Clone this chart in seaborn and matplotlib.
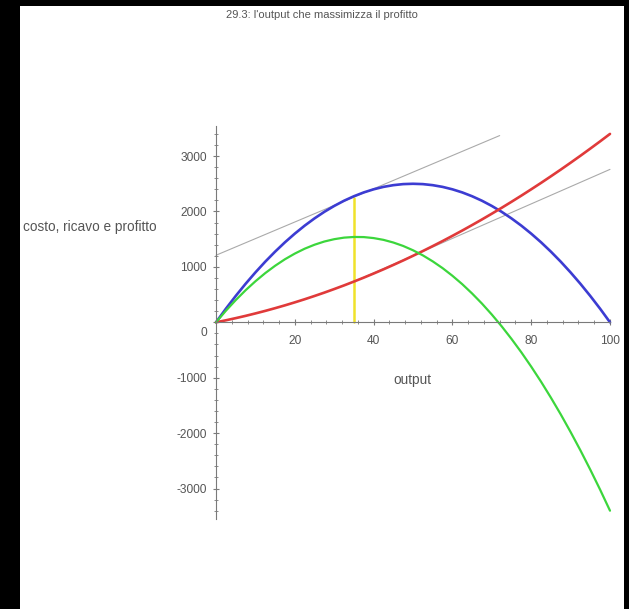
import pandas as pd
import seaborn as sns
import matplotlib.pyplot as plt
from matplotlib.patches import Rectangle
from matplotlib.ticker import MultipleLocator
from matplotlib.transforms import ScaledTranslation

# values (every 2.5 units of output)
output = [0, 2.5, 5, 7.5, 10, 12.5, 15, 17.5, 20, 22.5, 25, 27.5, 30, 32.5, 35, 37.5,
          40, 42.5, 45, 47.5, 50, 52.5, 55, 57.5, 60, 62.5, 65, 67.5, 70, 72.5, 75,
          77.5, 80, 82.5, 85, 87.5, 90, 92.5, 95, 97.5, 100]
ricavo = [0, 244, 475, 694, 900, 1094, 1275, 1444, 1600, 1744, 1875, 1994, 2100,
          2194, 2275, 2344, 2400, 2444, 2475, 2494, 2500, 2494, 2475, 2444, 2400,
          2344, 2275, 2194, 2100, 1994, 1875, 1744, 1600, 1444, 1275, 1094, 900,
          694, 475, 244, 0]
costo = [0, 36, 75, 116, 160, 206, 255, 306, 360, 416, 475, 536, 600, 666, 735,
         806, 880, 956, 1035, 1116, 1200, 1286, 1375, 1466, 1560, 1656, 1755, 1856,
         1960, 2066, 2175, 2286, 2400, 2516, 2635, 2756, 2880, 3006, 3135, 3266, 3400]
profitto = [0, 208, 400, 578, 740, 888, 1020, 1138, 1240, 1328, 1400, 1458, 1500,
            1528, 1540, 1538, 1520, 1488, 1440, 1378, 1300, 1208, 1100, 978, 840,
            688, 520, 338, 140, -72, -300, -542, -800, -1072, -1360, -1662, -1980,
            -2312, -2660, -3022, -3400]

# tangent lines (revenue tangent and cost tangent at the optimum) and the optimum marker
tang_r_x = [0, 72]
tang_r_y = [1210, 3370]
tang_c_x = [35, 100]
tang_c_y = [735, 2760]
q_opt_x = [35, 35]
q_opt_y = [0, 2250]

x_ticks = [20, 40, 60, 80, 100]
y_ticks = [-3000, -2000, -1000, 0, 1000, 2000, 3000]

sns.set_style("white")
plt.rcParams['font.family'] = ['Liberation Sans', 'DejaVu Sans']

fig = plt.figure(figsize=(6.29, 6.09), dpi=100, facecolor="black")
fig.patches.append(Rectangle((20 / 629, 0), 604 / 629, 603 / 609,
                             transform=fig.transFigure, facecolor="white",
                             edgecolor="none", zorder=-10))
ax = fig.add_axes([216 / 629, 90 / 609, 394 / 629, 393.4 / 609])
ax.set_facecolor("none")
ax.set_zorder(5)

df = pd.DataFrame({"output": output, "ricavo": ricavo,
                   "costo": costo, "profitto": profitto})

kw = dict(ax=ax, estimator=None, sort=False)
sns.lineplot(x=tang_r_x, y=tang_r_y, color="#aaaaaa", lw=0.8, **kw)
sns.lineplot(x=tang_c_x, y=tang_c_y, color="#aaaaaa", lw=0.8, **kw)
sns.lineplot(x=q_opt_x, y=q_opt_y, color="#f0e22a", lw=1.8, **kw)
sns.lineplot(data=df, x="output", y="ricavo", color="#3c3cd2", lw=1.9, **kw)
sns.lineplot(data=df, x="output", y="costo", color="#e03a3a", lw=1.9, **kw)
sns.lineplot(data=df, x="output", y="profitto", color="#3cd63c", lw=1.6, **kw)
for ln in ax.lines:
    ln.set_clip_on(False)

ax.set_xlim(0, 100)
ax.set_ylim(-3550, 3550)
ax.spines["left"].set_position(("data", 0))
ax.spines["bottom"].set_position(("data", 0))
ax.spines["right"].set_visible(False)
ax.spines["top"].set_visible(False)
for s in ("left", "bottom"):
    ax.spines[s].set_color("#7a7a7a")
    ax.spines[s].set_linewidth(0.8)

ax.set_xticks(x_ticks)
ax.set_xticklabels([str(v) for v in x_ticks])
ax.set_yticks(y_ticks)
ax.set_yticklabels([str(v) for v in y_ticks])
ax.xaxis.set_minor_locator(MultipleLocator(4))
ax.yaxis.set_minor_locator(MultipleLocator(200))
ax.tick_params(which="both", bottom=True, left=True, top=False, right=False)
ax.tick_params(which="major", direction="inout", length=5, width=0.8,
               color="#7a7a7a", labelsize=8.6, labelcolor="#555555", pad=4)
ax.tick_params(which="minor", direction="inout", length=3, width=0.6,
               color="#7a7a7a")
ax.tick_params(axis="x", pad=7)
ax.set_xlabel("")
ax.set_ylabel("")

# the "0" label sits a little below the x axis in the reference
for lab in ax.get_yticklabels():
    if lab.get_text() == "0":
        lab.set_transform(lab.get_transform() +
                          ScaledTranslation(0, -9 / 100, fig.dpi_scale_trans))

fig.text(23 / 629, 1 - 227 / 609, "costo, ricavo e profitto", ha="left",
         va="center", fontsize=9.8, color="#555555")
fig.text(412 / 629, 1 - 380 / 609, "output", ha="center", va="center",
         fontsize=9.8, color="#555555")
fig.text(322 / 629, 1 - 15 / 609, "29.3: l'output che massimizza il profitto",
         ha="center", va="center", fontsize=8, color="#555555")

fig.savefig("out.png", dpi=100, facecolor=fig.get_facecolor())
